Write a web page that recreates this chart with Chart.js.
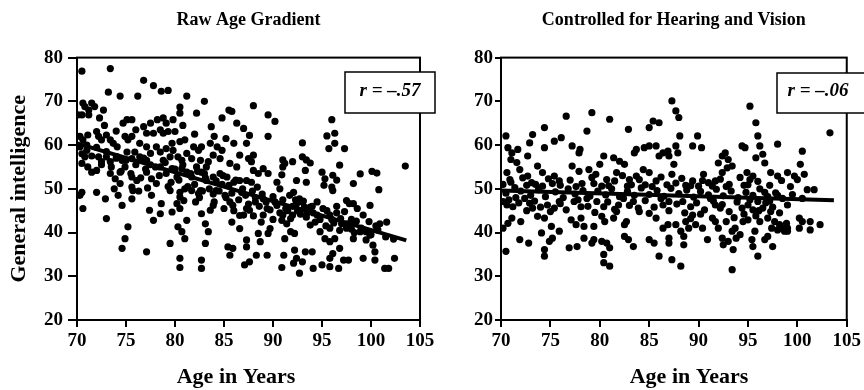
<!DOCTYPE html>
<html>
<head>
<meta charset="utf-8">
<script src="https://cdn.jsdelivr.net/npm/chart.js@4.4.1/dist/chart.umd.min.js"></script>
<style>
    body { margin: 0; background: #fff; }
    #wrap { position: relative; width: 864px; height: 390px; overflow: hidden; }
    #leftChart { position: absolute; left: 0; top: 0; }
    #rightChart { position: absolute; left: 432px; top: 0; }
</style>
</head>
<body>
<div id="wrap">
    <canvas id="leftChart" width="440" height="390"></canvas>
    <canvas id="rightChart" width="432" height="390"></canvas>
</div>
<script>
// *** DATA ***
var panelTitles = ["Raw Age Gradient", "Controlled for Hearing and Vision"];
var rLabels = ["r = \u2013.57", "r = \u2013.06"];
var xTicks = [70, 75, 80, 85, 90, 95, 100, 105];
var yTicks = [20, 30, 40, 50, 60, 70, 80];

// [age, score]
var rawPoints = [
    [70.5,76.9],[73.4,77.5],[76.8,74.8],[77.8,73.6],[78.6,72.3],[79.3,72.5],[73.2,72.1],[74.4,71.2],[76.2,71.2],[81.2,71.2],
    [83,70],[88,69],[80.5,68.7],[85.5,68],[85.8,67.7],[89.5,66.9],[90.2,65.4],[80.5,67.3],[82.2,67.3],[84.8,66.2],
    [86.3,65],[87,63.8],[83.7,64.2],[96,65.8],[95.5,62.1],[96.3,62.7],[89.5,62],[96.3,60.4],[93,60.5],[97.3,59.2],
    [95.7,59.2],[91,56.6],[91.2,55.8],[92,56.2],[93,57.3],[93.4,56.6],[93.8,55.9],[93.3,54.2],[92.4,51.9],[93.4,51.5],
    [95,53.8],[95.3,52.3],[96.8,55.4],[96.1,53.1],[96.5,52],[98.9,53.4],[100.1,54],[100.6,53.6],[103.5,55.2],[98.2,51.2],
    [100.8,49.8],[95.2,50.8],[96,50.4],[91,55],[90.9,53.2],[90.4,51.5],[89.5,53.5],[88,54.2],[88.5,53.5],[87.3,51.9],[87.8,51.5],
    [70.1,66.9],[70.6,69.6],[70.8,68.8],[71.2,68],[71.5,69.6],[71.8,68.8],[71.2,66.9],[70.5,66.9],[72.3,66.2],[72.7,68],
    [72,63.1],[71.1,62.3],[70.3,62],[70.6,61.2],[70.3,59.6],[71,58.8],[72.2,62],[72.5,61.2],[73,62.3],[73.4,61.2],
    [73.7,60.4],[74.1,59.6],[74.9,62],[75.2,61.2],[75.6,62],[74.7,65],[75.1,65.8],[75.6,65.8],[76.8,64.2],[77.5,65],
    [78.2,65.8],[78.8,66.2],[79.1,65],[79.8,65.8],[77.1,62.7],[77.8,62.7],[78.5,63.5],[78.8,62.7],[79.3,63.1],[80,63.1],
    [79.7,60.4],[80.5,60.8],[81,61.2],[81.9,59.6],[82.4,58.8],[82.7,59.6],[83.6,60.4],[84.3,59.6],[84.8,58.8],[83.9,57.7],
    [84.6,56.9],[86,60.4],[86.6,57.7],[87.3,60.4],[87.5,56.9],[88,57.7],[81.7,56.9],[82.6,56.5],[83.4,56.2],[81.2,58.1],
    [78.1,59.6],[78.5,58.4],[76.4,60.4],[77.1,59.6],[75.9,58.4],[76.4,57.3],[75.1,58.4],[75.6,56.9],[74.1,57.3],[74.6,56.5],
    [73,57.3],[73.4,56.2],[72.2,57.3],[72.5,56.2],[72,54.2],[71.1,55],[71.5,53.8],[70.8,57.3],[70.5,55.8],[73.4,53.5],
    [73.9,52.3],[74.4,51.2],[75.6,52.7],[76.1,51.9],[75.6,50.4],[77.1,53.8],[77.6,52.3],[78.1,51.2],[79.1,53.5],[79.7,54.6],
    [80.2,52.7],[80.7,54.6],[81.2,53.8],[81.7,52.7],[82.2,55],[82.7,53.8],[83.2,51.9],[83.9,52.7],[84.6,53.5],[85.3,52.7],
    [86,51.5],[86.6,51.9],[78.5,55],[78.8,56.5],[79.5,57.3],[77.1,56.5],[77.5,58.1],[74.4,53.8],[74.9,55],[79.1,59.2],
    [79.8,58.8],[80.3,57.3],[80.7,56.5],[83.2,55],[85.6,55.8],[86.3,55],[87.8,56.2],[89,54.6],
    [70.5,49.2],[70.3,48.5],[70.6,45.5],[72,49.2],[72.9,47.7],[73,43.2],[74.2,48.5],[74.6,46.2],[74.9,38.6],[74.6,36.4],
    [75.2,41.3],[75.6,47.7],[75.7,49.6],[77.1,35.6],[77.6,48.5],[77.4,45.1],[77.8,42.8],[78.5,44.3],[78.6,46.6],[79.5,49.6],
    [79.7,44.7],[79.5,37.5],[80.2,46.6],[80.5,48.1],[80.9,47.3],[80.5,45.5],[80.3,41.3],[80.7,40.2],[81,38.6],[80.5,34.1],
    [80.5,32],[81.2,42.8],[81.7,49.6],[82.1,47],[82.4,48.9],[82.6,49.6],[82.7,44.3],[83.1,42],[83.4,40.2],[82.7,33.7],
    [82.7,31.8],[83.1,37.5],[83.6,45.1],[83.9,46.2],[84.2,49.6],[85.1,48.5],[85.6,47],[85.9,46.2],[85.4,36.7],[85.6,34.8],
    [85.9,36.4],[85.8,42.4],[86.6,43.9],[87.3,45.5],[87.6,45.1],[86.6,40.9],[87.3,38.3],[87.3,36.7],[87.1,32.6],[87.6,33.3],
    [88.3,34.8],[88.5,39.8],[88.7,37.9],[88.8,42.4],[89.4,34.8],[88.2,47],[89,47.7],[89.4,45.5],[89.7,40.9],[89.5,39.8],
    [90.9,42.8],[91.4,42],[91.8,43.2],[91.1,34.8],[90.9,32],[91.2,38.6],[91.8,40.2],[92.2,39.8],[92.1,33],[92.2,36],
    [92.4,34.1],[92.7,30.7],[93,33.3],[93.3,35.6],[94,35.6],[94.1,31.8],[93.8,41.7],[94.3,42.4],[94.8,40.2],[95.3,38.6],
    [95.8,37.9],[96.3,38.6],[95,32.6],[95.8,32.2],[96.7,31.8],[95.8,34.1],[96.1,35.2],[96.8,36.4],[97.2,33.7],[97.7,33.7],
    [98.2,38.6],[98.9,40.2],[99.2,34.1],[99.5,38.3],[99.9,39.4],[100.2,37.1],[100.4,35.6],[100.4,33.7],[99.9,46.2],[101.4,31.8],
    [101.8,31.8],[100.9,42],[101.6,42.4],[102.4,34.1],[96.1,49.6],[97.5,47.3],[98.2,46.6],[92.1,49.2],[92.7,47.7],[90.7,50],
    [92,46],[92.5,45],[93,47],[93.5,44.5],[94,46],[94.5,44],[92.3,47.5],[93.2,45.8],[91.5,45],[92.8,44.2],
    [95.5,45],[96,43],[96.5,44.5],[97,42],[97.5,41],[98,43],[98.3,40],[95.8,41],[96.8,40.5],[97.8,46.6],
    [98.6,45.5],[99.2,44],[99.8,42.5],[100.5,41.5],
    [78,55],[78.4,53],[79,56],[79.6,51.5],[80,54.5],[80.4,52],[80.8,55.5],[81.3,50.5],[81.6,53.5],[82,51],
    [82.3,54],[82.8,49.5],[83.1,52.5],[83.5,50],[83.9,48.8],[84.2,51.8],[84.5,49.5],[84.9,53],[85.2,48],[85.5,50.8],
    [85.8,49],[86.2,52],[86.5,47.5],[86.9,50],[87.2,48.5],[87.5,46.5],[87.9,49.5],[88.2,48],[88.6,46],[88.9,48.8],
    [89.3,47],[89.7,45.2],[90,48.2],[90.4,46.2],[90.7,44.5],[91,47.5],[91.3,45.5],[91.7,48.5],[92,44],[92.4,46.5],
    [92.7,45],[93.1,47.2],[93.4,43.5],[93.8,45.8],[94.1,44.5],[94.5,47],[94.8,43],[95.1,45.5],[95.4,41.5],[95.8,44],
    [96.2,42.2],[96.5,46],[96.9,43.2],[97.3,44.8],[97.6,42],[98,40.8],[98.5,42.6],[99,41],[99.5,40.2],[100,39.5],
    [100.7,40.6],[101.5,39],[102.3,38.5],
    [70.5,58],[71,60],[71.5,57.5],[72,59.5],[72.5,55.5],[73,58.5],[73.5,55],[74,57],[74.5,54],[75,56.5],
    [75.5,53.5],[76,55.5],[76.5,52.5],[77,54.5],[77.5,55.5],[76.8,57],
    [81,50],[82.5,48],[84,47],[85,45.5],[86,45],[87,44],[88,43.8],[89,44],[90,43],[91,44],
    [83,53.5],[84.8,51],[86.8,49.2],[88.4,50.4],[90.2,47],[79.3,50.5],[80.5,49.2],[76.3,49.5],[77.2,50.2],[73.8,50],
    [72.8,64.5],[74,63.2],[76,63.5],[80.8,64.5],[82,62.5],[84,62],[85.2,61.5],[87.6,62.2]
];

var controlledPoints = [
    [70.5,62.1],[70.7,59.4],[71.1,58.2],[71,56.7],[71.7,59],[70.6,53.7],[70.9,52.1],[70.2,51],[71.6,56],[71.9,54.4],
    [72.7,57.5],[72.9,60.5],[73.2,62.4],[74.4,64],[74.4,59.4],[75.4,60.9],[76.1,61.7],[76.6,66.6],[77.2,59.8],[77.9,58.2],
    [78,59],[78.7,63.2],[79.2,67.4],[81,65.9],[80.4,57.5],[81.4,57.1],[82,56.3],[82.5,55.6],[82.9,63.6],[83.5,58.2],
    [83.7,59],[84.5,59.4],[85,59.8],[85,64],[85.4,65.5],[86,65.1],[85.7,59.8],[86,57.5],[86.4,58.2],[87,57.5],
    [86.9,58.6],[87.3,70.1],[87.7,67.8],[88,66.3],[88.1,62.1],[87.7,59.8],[87.9,58.2],[87.5,55.6],[87.3,53.3],[89.4,59.8],
    [89.9,62.1],[90.3,59.4],[90.5,53.3],[92,55.9],[92.4,57.5],[92.7,58.2],[93,56.7],[93.4,55.2],[92.4,53.7],[92.9,54.8],
    [94.4,59.8],[94.7,59.4],[95.2,68.9],[95.8,65.1],[96,62.1],[96.2,59.8],[95.8,57.1],[96.5,57.9],[96.7,55.9],[98,60.2],
    [97.3,53.7],[98,52.9],[99,53.7],[99.7,52.9],[100.3,55.6],[100.5,58.6],[100,52.1],[100.7,53.3],[101,49.8],[101.7,49.8],
    [103.3,62.8],[94.9,53.7],[95.2,52.1],[95.5,52.9],[77.2,55.2],[77.9,54],[75.4,52.9],[75.9,51.8],[73.7,55.2],[74.2,53.7],
    [72.7,52.9],[73.1,51.4],[78.9,54.4],[79.6,53.3],[80,55.6],[80.7,52.1],[81.7,53.7],[83,52.1],[83.7,52.9],[84.4,54.4],
    [85,53.7],[85.7,51.8],[88.7,50.8],[89.4,51.8],[91,51.4],[91.7,51.8],
    [70.5,35.7],[70.2,41],[70.7,42.1],[71.1,43.3],[70.2,47.1],[70.6,46.3],[71.2,45.9],[72,42.5],[71.9,38.4],[72.8,37.6],
    [72.4,47.8],[72.9,46.7],[73.2,45.6],[73.7,43.7],[74.4,43.3],[74.1,39.9],[74.4,36.1],[74.4,34.6],[74.9,38],[75.2,38.7],
    [75.9,40.3],[75.1,41.4],[74.7,46.3],[75.4,45.6],[75.9,47.1],[76.9,36.5],[77.7,36.8],[77.1,42.9],[77.6,41.8],[78.1,43.3],
    [78.4,41.4],[78.4,38.7],[77.4,47.1],[78.1,45.9],[78.7,47.8],[79.4,41.4],[79.4,38.4],[79.2,37.6],[79.7,47.1],[80.4,45.9],
    [80.2,43.7],[80.5,42.5],[80.2,38],[80.7,37.6],[81,36.5],[80.4,35],[80.4,33.1],[81,32.3],[81.4,43.3],[81.7,44.8],
    [81.9,46.3],[82.5,41.8],[82.7,42.5],[82.5,39.1],[82.9,38.4],[83.4,36.8],[83.4,47.1],[83.9,45.6],[85,38.4],[85.5,37.6],
    [85,44.4],[85.7,43.3],[86,34.6],[86.4,41],[86.9,41.8],[87,37.6],[87,38.7],[86.4,46.3],[87,47.1],[87.3,33.8],
    [87.7,41.8],[88.2,40.3],[88.5,39.1],[88.7,42.5],[89,41],[88.2,32.3],[88.5,37.2],[89.4,44],[89.7,41.8],[88.4,47.1],
    [89.2,45.9],[90.4,41],[90.9,38.4],[91.4,43.3],[91.7,42.5],[92,41],[92.4,38.7],[92.5,37.2],[93,38],[92.8,42.5],
    [91.2,47.8],[91.7,46.3],[92.2,45.6],[93.4,31.5],[93.5,36.1],[93.8,38.7],[94.2,39.5],[93.4,40.3],[93.7,41],[94.5,42.5],
    [95,42.9],[94.4,45.6],[95,46.3],[95.5,45.2],[96,47.1],[95.4,38.4],[95.5,36.8],[95.7,40.3],[96.2,42.5],[96,34.6],
    [96.7,38.4],[97,39.1],[97.4,41],[97.5,36.8],[97,43.3],[97.7,42.5],[98.2,41.8],[98.5,41],[98.9,42.1],[98,40.6],
    [98.7,40.3],[96.5,45.6],[97.3,44.8],[99,41],[99,40.3],[100.2,43.3],[100.2,41],[100.5,42.5],[101.3,42.5],[101.3,40.6],
    [102.3,41.8],
    [70.5,49],[71.5,48],[72,49.5],[73,48.5],[73.8,49.8],[74.5,48.2],[75.5,49.3],[76.3,48],[76.8,50],[77.5,48.8],
    [78.3,49.6],[79,48.3],[79.8,49.5],[80.6,48.6],[81.2,50],[82,48.2],[82.8,49.4],[83.5,48.5],[84.2,50.2],[85,48.7],
    [85.8,49.6],[86.5,48.3],[87.2,50.1],[88,48.9],[88.8,49.7],[89.5,48.1],[90.2,49.4],[91,48.6],[91.8,49.9],[92.5,48.4],
    [93.3,49.5],[94,48],[94.8,49.2],[95.5,48.5],[96.2,50],[97,48.2],[97.8,49.1],[98.5,47.8],[99.5,48.7],[100.5,47.8],
    [71,51.5],[72.2,52.5],[73.5,51],[74.8,52.3],[76,50.8],[77,52],[78.2,51.2],[79.2,52.6],[80.2,50.6],[81.5,51.8],
    [82.3,53],[83.2,50.9],[84,52.1],[85.3,50.5],[86.2,52.7],[87.7,51.3],[88.3,52.4],[89.2,50.7],[90.4,51.9],[91.4,50.6],
    [92.2,52.2],[93.1,51],[94.2,52.6],[95,50.9],[96,51.7],[97.2,50.8],[98.4,51.9],[99.3,50.5],
    [70.8,47.5],[71.8,46.8],[72.6,45],[73.4,47.2],[74,45.8],[75,44.8],[76,46.6],[76.6,45.2],[77.8,47.5],[78.8,46],
    [79.5,44.6],[80.8,47],[81.5,45.3],[82.4,47.8],[83,46.2],[84,44.8],[84.6,47.3],[85.5,45.8],[86.2,47.8],[87,45],
    [87.8,46.5],[88.6,44.5],[89.8,46.8],[90.6,45.2],[91.5,47.2],[92.4,46.4],[93.1,44.8],[93.9,47],[94.6,44.2],[95.2,47.5],
    [96.1,45],[96.8,46.8],[97.5,45.8],[98.2,44.5],[99,46.3],
    [71.4,50.3],[72.6,50.8],[74.2,50.6],[75.2,51.2],[77.6,50.5],[79.4,51.2],[80.9,50.7],[82.8,50.6],[84.6,50.9],[86.8,50.9],
    [90,50.6],[92.8,50.5],[94.6,50.8],[96.7,49.2],[98,48.5],[89.2,43.2],[90.2,44.2],[93.6,43.4],[95.8,43.8],[97.2,47.2]
];

// regression line end points
var rawFit = [[70, 60.4], [103.6, 38.2]];
var controlledFit = [[70, 49.6], [103.7, 47.4]];

// *** FUNCTIONS ***
var serif = "'Liberation Serif', 'Times New Roman', serif";
Chart.defaults.color = '#000';

function toXY(list) {
    return list.map(function(p) { return { x: p[0], y: p[1] }; });
}

// frame, r box and x axis label
var panelDecor = {
    id: 'panelDecor',
    afterDraw: function(chart, args, opts) {
        var ctx = chart.ctx;
        var a = chart.chartArea;
        ctx.save();
        ctx.strokeStyle = '#000';
        ctx.lineWidth = 2;
        ctx.strokeRect(a.left, a.top, a.right - a.left, a.bottom - a.top);

        ctx.fillStyle = '#fff';
        ctx.fillRect(opts.box[0], opts.box[1], opts.box[2], opts.box[3]);
        ctx.lineWidth = 1.5;
        ctx.strokeRect(opts.box[0], opts.box[1], opts.box[2], opts.box[3]);

        ctx.fillStyle = '#000';
        ctx.textAlign = 'center';
        ctx.textBaseline = 'middle';
        ctx.font = 'italic bold 19px ' + serif;
        ctx.fillText(opts.rText, opts.rX, opts.rY);

        ctx.font = 'bold 22px ' + serif;
        ctx.fillText(opts.xTitle, opts.xTitleX, opts.xTitleY);
        ctx.restore();
    }
};

function scatterPanel(canvas, title, points, fit, decor, yWidth, yTitle, tickLen, tickPad, padRight) {
    return new Chart(canvas, {
        type: 'scatter',
        data: {
            datasets: [{
                type: 'line',
                data: toXY(fit),
                borderColor: '#000',
                borderWidth: 4,
                pointRadius: 0,
                order: 0
            }, {
                data: toXY(points),
                backgroundColor: '#000',
                borderWidth: 0,
                pointRadius: 3.6,
                order: 1
            }]
        },
        options: {
            responsive: false,
            animation: false,
            devicePixelRatio: 1,
            layout: { padding: { left: 0, right: padRight, top: 0, bottom: 0 } },
            plugins: {
                legend: { display: false },
                tooltip: { enabled: false },
                title: {
                    display: true,
                    text: title,
                    fullSize: false,
                    color: '#000',
                    font: { family: serif, size: 18, weight: 'bold' },
                    padding: { top: 10, bottom: 26 }
                },
                panelDecor: decor
            },
            scales: {
                x: {
                    type: 'linear',
                    min: xTicks[0],
                    max: xTicks[xTicks.length - 1],
                    afterBuildTicks: function(s) { s.ticks = xTicks.map(function(v) { return { value: v }; }); },
                    afterFit: function(s) { s.height = 70; },
                    ticks: { color: '#000', padding: 3, maxRotation: 0, font: { family: serif, size: 19, weight: 'bold' } },
                    grid: { drawOnChartArea: false, tickLength: 7, color: '#000', lineWidth: 2 },
                    border: { color: '#000', width: 2 }
                },
                y: {
                    min: yTicks[0],
                    max: yTicks[yTicks.length - 1],
                    afterBuildTicks: function(s) { s.ticks = yTicks.map(function(v) { return { value: v }; }); },
                    afterFit: function(s) { s.width = yWidth; },
                    ticks: { color: '#000', padding: tickPad, font: { family: serif, size: 19, weight: 'bold' } },
                    grid: { drawOnChartArea: false, tickLength: tickLen, color: '#000', lineWidth: 2 },
                    border: { color: '#000', width: 2 },
                    title: {
                        display: yTitle !== '',
                        text: yTitle,
                        color: '#000',
                        font: { family: serif, size: 22, weight: 'bold' },
                        padding: { top: 6, bottom: 0 }
                    }
                }
            }
        },
        plugins: [panelDecor]
    });
}

scatterPanel(document.getElementById('leftChart'), panelTitles[0], rawPoints, rawFit,
    { box: [345, 72, 90, 41], rText: rLabels[0], rX: 390, rY: 91, xTitle: 'Age in Years', xTitleX: 236, xTitleY: 377 },
    77, 'General intelligence', 9, 5, 20);

scatterPanel(document.getElementById('rightChart'), panelTitles[1], controlledPoints, controlledFit,
    { box: [345, 73, 92, 40], rText: rLabels[1], rX: 386, rY: 91, xTitle: 'Age in Years', xTitleX: 257, xTitleY: 377 },
    69, '', 6, 2, 12);
</script>
</body>
</html>
